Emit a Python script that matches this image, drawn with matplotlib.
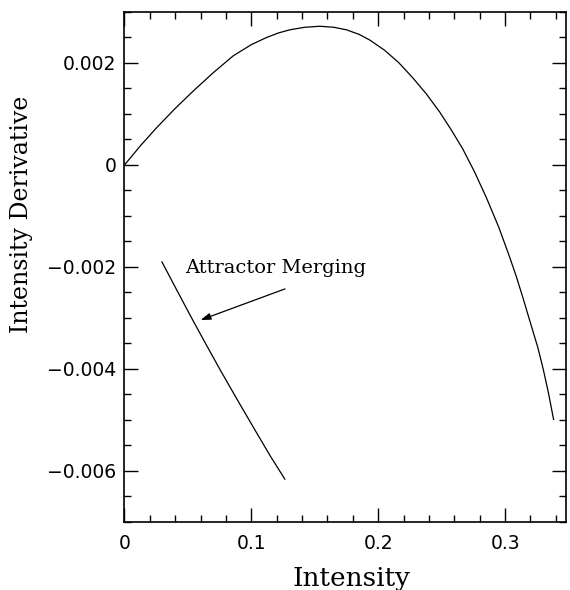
import matplotlib
matplotlib.use("Agg")
import matplotlib.pyplot as plt
from matplotlib.ticker import MultipleLocator, FuncFormatter

# main branch
main_x = [0.0, 0.006, 0.013, 0.0253, 0.040, 0.0542, 0.070, 0.0857, 0.100, 0.112,
          0.1215, 0.1303, 0.142, 0.1539, 0.165, 0.175, 0.185, 0.1933, 0.205, 0.216,
          0.2272, 0.238, 0.2484, 0.2575, 0.2665, 0.276, 0.2854, 0.295, 0.3035,
          0.309, 0.314, 0.320, 0.3258, 0.330, 0.334, 0.3382]
main_y = [0.0, 0.00018, 0.00039, 0.00073, 0.00111, 0.00145, 0.00181, 0.00214, 0.00236, 0.00250,
          0.00259, 0.00265, 0.00270, 0.00272, 0.00270, 0.00265, 0.00256, 0.00245, 0.00225, 0.00201,
          0.00171, 0.00139, 0.00104, 0.00069, 0.00032, -0.00014, -0.00065, -0.00122, -0.00180,
          -0.00220, -0.00260, -0.00310, -0.00358, -0.00400, -0.00445, -0.00499]

# merged-attractor branch
merge_x = [0.0295, 0.042, 0.0542, 0.065, 0.0757, 0.090, 0.1041, 0.115, 0.1264]
merge_y = [-0.00190, -0.00249, -0.00306, -0.00355, -0.00403, -0.00465, -0.00525, -0.00571, -0.00616]

note = "Attractor Merging"
note_xy = (0.0476, -0.00202)
arrow_tail = (0.1265, -0.00243)
arrow_head = (0.060, -0.00304)

fig = plt.figure(figsize=(5.7, 5.9), dpi=100)
ax = fig.add_axes([0.2184, 0.1153, 0.7746, 0.8644])

ax.plot(main_x, main_y, color="black", lw=0.9)
ax.plot(merge_x, merge_y, color="black", lw=0.9)

ax.text(note_xy[0], note_xy[1], note, family="DejaVu Serif", fontsize=14,
        ha="left", va="center")
ax.annotate("", xy=arrow_head, xytext=arrow_tail,
            arrowprops=dict(arrowstyle="-|>,head_length=0.6,head_width=0.2",
                            color="black", lw=0.9, shrinkA=0, shrinkB=0))

ax.set_xlim(0, 0.348)
ax.set_ylim(-0.007, 0.003)
ax.xaxis.set_major_locator(MultipleLocator(0.1))
ax.xaxis.set_minor_locator(MultipleLocator(0.02))
ax.yaxis.set_major_locator(MultipleLocator(0.002))
ax.yaxis.set_minor_locator(MultipleLocator(0.0005))

fmt = FuncFormatter(lambda v, p: "0" if abs(v) < 1e-9 else f"{v:g}".replace("-", "\u2212"))
ax.xaxis.set_major_formatter(fmt)
ax.yaxis.set_major_formatter(fmt)

ax.tick_params(which="both", direction="in", top=True, right=True, width=1,
               labelsize=13.5)
ax.tick_params(which="major", length=10)
ax.tick_params(which="minor", length=5)
ax.tick_params(axis="x", pad=9)
ax.tick_params(axis="y", pad=6)
for lbl in ax.get_xticklabels() + ax.get_yticklabels():
    lbl.set_family("DejaVu Sans")
for s in ax.spines.values():
    s.set_linewidth(1.2)

ax.set_xlabel("Intensity", family="DejaVu Serif", fontsize=19, va="center")
ax.xaxis.set_label_coords(0.515, -0.11)
ax.set_ylabel("Intensity Derivative", family="DejaVu Serif", fontsize=17, va="center")
ax.yaxis.set_label_coords(-0.234, 0.604)

fig.savefig("out.png", dpi=100)
